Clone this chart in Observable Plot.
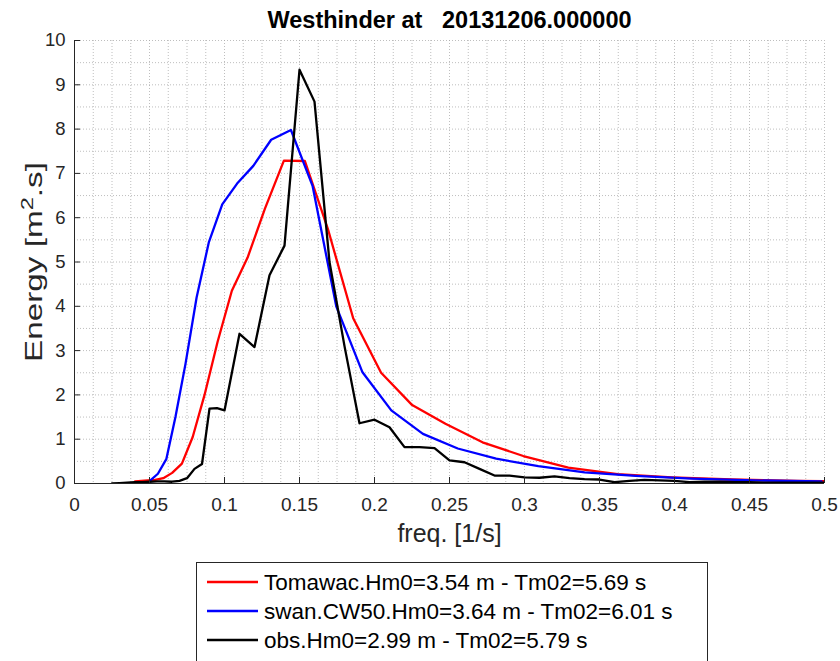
<!DOCTYPE html>
<html>
<head>
<meta charset="utf-8">
<script src="https://cdn.jsdelivr.net/npm/d3@7"></script>
<script src="https://cdn.jsdelivr.net/npm/@observablehq/plot@0.6"></script>
<style>
  html, body { margin: 0; padding: 0; background: white; }
  #wrap { position: relative; width: 840px; height: 661px; overflow: hidden; font-family: 'Liberation Sans', Arial, sans-serif; }
  #legend { position: absolute; left: 196px; top: 562px; width: 512px; height: 120px; border: 1px solid #262626; background: white; box-sizing: border-box; }
</style>
</head>
<body>
<div id="wrap"></div>
<script>
// ---- data ----
const titleText = "Westhinder at   20131206.000000";
const xLabelText = "freq. [1/s]";
const yLabelText = "Energy [m2.s]";

const xTicks = [0, 0.05, 0.1, 0.15, 0.2, 0.25, 0.3, 0.35, 0.4, 0.45, 0.5];
const xTickLabels = ["0", "0.05", "0.1", "0.15", "0.2", "0.25", "0.3", "0.35", "0.4", "0.45", "0.5"];
const yTicks = [0, 1, 2, 3, 4, 5, 6, 7, 8, 9, 10];

const seriesNames = [
  "Tomawac.Hm0=3.54 m - Tm02=5.69 s",
  "swan.CW50.Hm0=3.64 m - Tm02=6.01 s",
  "obs.Hm0=2.99 m - Tm02=5.79 s"
];
const seriesColors = ["#ff0000", "#0000ff", "#000000"];

const tomawacFreq = [0.0404, 0.0445, 0.0489, 0.0538, 0.0592, 0.0651, 0.0716, 0.0788, 0.0867, 0.0954,
  0.1049, 0.1154, 0.1269, 0.1396, 0.1536, 0.1689, 0.1858, 0.2044, 0.2248, 0.2473,
  0.2720, 0.2992, 0.3292, 0.3621, 0.3983, 0.4381, 0.4819, 0.5301];
const tomawacE = [0.05, 0.06, 0.07, 0.08, 0.12, 0.24, 0.45, 1.05, 2.0, 3.2,
  4.35, 5.1, 6.2, 7.29, 7.28, 5.75, 3.73, 2.5, 1.78, 1.35,
  0.93, 0.62, 0.36, 0.21, 0.14, 0.09, 0.06, 0.04];

const swanFreq = [0.0506, 0.0556, 0.0612, 0.0673, 0.0740, 0.0814, 0.0896, 0.0985, 0.1084, 0.1192,
  0.1311, 0.1443, 0.1587, 0.1745, 0.1920, 0.2112, 0.2323, 0.2555, 0.2811, 0.3092,
  0.3401, 0.3741, 0.4115, 0.4527, 0.4980];
const swanE = [0.07, 0.22, 0.55, 1.5, 2.7, 4.2, 5.45, 6.3, 6.77, 7.17,
  7.76, 7.98, 6.72, 4.0, 2.51, 1.65, 1.12, 0.79, 0.56, 0.39,
  0.25, 0.17, 0.11, 0.07, 0.05];

const obsFreq = [0.025, 0.03, 0.035, 0.04, 0.045, 0.05, 0.055, 0.06, 0.065, 0.07,
  0.075, 0.08, 0.085, 0.09, 0.095, 0.1, 0.11, 0.12, 0.13, 0.14,
  0.15, 0.16, 0.17, 0.18, 0.19, 0.2, 0.21, 0.22, 0.23, 0.24,
  0.25, 0.26, 0.27, 0.28, 0.29, 0.3, 0.31, 0.32, 0.33, 0.34,
  0.35, 0.36, 0.37, 0.38, 0.39, 0.4, 0.41, 0.42, 0.43, 0.44,
  0.45, 0.46, 0.47, 0.48, 0.49, 0.5];
const obsE = [0.0, 0.01, 0.02, 0.03, 0.03, 0.04, 0.05, 0.05, 0.04, 0.06,
  0.12, 0.33, 0.44, 1.69, 1.70, 1.65, 3.38, 3.08, 4.7, 5.37,
  9.34, 8.62, 5.0, 3.1, 1.36, 1.44, 1.27, 0.82, 0.82, 0.8,
  0.52, 0.48, 0.33, 0.18, 0.18, 0.14, 0.13, 0.16, 0.12, 0.1,
  0.09, 0.03, 0.06, 0.08, 0.07, 0.06, 0.03, 0.04, 0.04, 0.03,
  0.03, 0.02, 0.02, 0.02, 0.02, 0.02];

// ---- build tables ----
const tomawac = tomawacFreq.map((f, i) => ({f, e: tomawacE[i]}));
const swan = swanFreq.map((f, i) => ({f, e: swanE[i]}));
const obs = obsFreq.map((f, i) => ({f, e: obsE[i]}));

const xGrid = d3.range(1, 41).map(i => i * 0.0125);
const yGrid = d3.range(1, 21).map(i => i * 0.5);

const W = 840, H = 555, mL = 74, mR = 16, mT = 40, mB = 72;
const frameW = W - mL - mR, frameH = H - mT - mB;
const axisColor = "#262626";
const gridStyle = {stroke: "#a8a8a8", strokeOpacity: 0.75, strokeDasharray: "1,2", strokeWidth: 1};
const lw = 2.3;

const svg = Plot.plot({
  width: W, height: H,
  marginLeft: mL, marginRight: mR, marginTop: mT, marginBottom: mB,
  x: {domain: [0, 0.5], axis: null},
  y: {domain: [0, 10], axis: null},
  style: {fontFamily: "'Liberation Sans', Arial, sans-serif", background: "white", overflow: "visible"},
  marks: [
    Plot.ruleX(xGrid, {x: d => d, ...gridStyle}),
    Plot.ruleY(yGrid, {y: d => d, ...gridStyle}),
    Plot.line(tomawac, {x: "f", y: "e", stroke: seriesColors[0], strokeWidth: lw, clip: true}),
    Plot.line(swan, {x: "f", y: "e", stroke: seriesColors[1], strokeWidth: lw, clip: true}),
    Plot.line(obs, {x: "f", y: "e", stroke: seriesColors[2], strokeWidth: lw, clip: true}),
    Plot.ruleX([0], {stroke: axisColor, strokeWidth: 1}),
    Plot.ruleY([0], {stroke: axisColor, strokeWidth: 1}),
    Plot.tickX(xTicks, {x: d => d, insetTop: frameH - 6, stroke: axisColor}),
    Plot.tickY(yTicks, {y: d => d, insetRight: frameW - 6, stroke: axisColor}),
    Plot.axisX(xTicks, {tickSize: 0, tickPadding: 14, fontSize: 19, label: null, fill: axisColor,
      tickFormat: d => xTickLabels[xTicks.indexOf(d)]}),
    Plot.axisY(yTicks, {tickSize: 0, tickPadding: 9, fontSize: 18.5, label: null, fill: axisColor}),
    Plot.text([titleText], {text: d => d, frameAnchor: "top", lineAnchor: "middle", dy: -20, fontWeight: "bold", fontSize: 23.5, fill: "#000"}),
    Plot.text([xLabelText], {text: d => d, frameAnchor: "bottom", lineAnchor: "middle", dy: 50, fontSize: 25, fill: axisColor}),
    Plot.text([yLabelText], {text: d => d, frameAnchor: "left", textAnchor: "middle", rotate: -90, dx: -40, fontSize: 24, fill: axisColor})
  ]
});

// superscript for the y label and preserve spaces in the title
d3.select(svg).selectAll("text").each(function() {
  const t = d3.select(this);
  if (this.textContent === yLabelText) {
    this.textContent = "";
    t.append("tspan").text("Energy [m");
    t.append("tspan").attr("baseline-shift", "super").attr("font-size", "17").text("2");
    t.append("tspan").text(".s]");
    t.attr("textLength", 200).attr("lengthAdjust", "spacingAndGlyphs");
  }
  if (this.textContent === titleText) {
    t.attr("xml:space", "preserve").style("white-space", "pre");
  }
});

const wrap = document.getElementById("wrap");
wrap.appendChild(svg);

// legend
const leg = document.createElement("div");
leg.id = "legend";
wrap.appendChild(leg);
const lsvg = d3.select(leg).append("svg").attr("width", 510).attr("height", 118)
  .style("font-family", "'Liberation Sans', Arial, sans-serif");
seriesNames.forEach((name, i) => {
  const cy = 19 + i * 29;
  lsvg.append("line").attr("x1", 10).attr("x2", 61).attr("y1", cy).attr("y2", cy)
    .attr("stroke", seriesColors[i]).attr("stroke-width", 2.5);
  lsvg.append("text").attr("x", 67).attr("y", cy).attr("dy", "0.36em")
    .attr("font-size", 22.5).attr("fill", "#000").text(name);
});
</script>
</body>
</html>
